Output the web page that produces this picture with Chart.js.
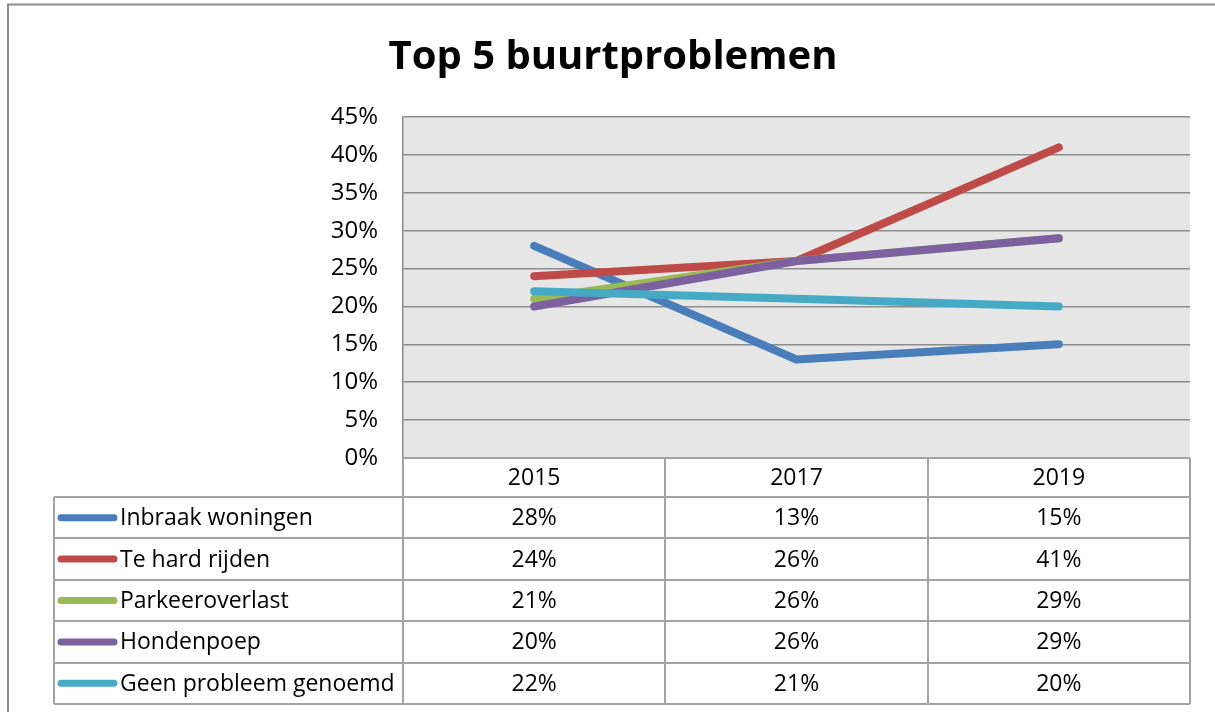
<!DOCTYPE html>
<html>
<head>
<meta charset="utf-8">
<script src="https://cdn.jsdelivr.net/npm/chart.js@4"></script>
<style>
  html, body { margin: 0; padding: 0; background: #fff; }
  #wrap { width: 1215px; height: 712px; }
</style>
</head>
<body>
<div id="wrap"><canvas id="myChart" width="1215" height="712"></canvas></div>
<script>
// chart data
const years = ['2015', '2017', '2019'];
const seriesNames = ['Inbraak woningen', 'Te hard rijden', 'Parkeeroverlast', 'Hondenpoep', 'Geen probleem genoemd'];
const inbraak = [28, 13, 15];
const teHard = [24, 26, 41];
const parkeer = [21, 26, 29];
const honden = [20, 26, 29];
const geenProbleem = [22, 21, 20];
const colors = ['#4A7EBB', '#BE4B48', '#98B954', '#7D60A0', '#46AAC5'];
const yTicks = [0, 5, 10, 15, 20, 25, 30, 35, 40, 45];

const allSeries = [inbraak, teHard, parkeer, honden, geenProbleem];
const FONT = '"Open Sans", "Liberation Sans", sans-serif';
const GRID = '#8c8c8c';
const TABLE_LINE = '#a3a3a3';

// outer frame + gray plot background
const background = {
  id: 'background',
  beforeDraw(chart) {
    const { ctx, chartArea: a } = chart;
    ctx.save();
    ctx.fillStyle = '#e6e6e6';
    ctx.fillRect(a.left, a.top, a.right - a.left, a.bottom - a.top);
    ctx.strokeStyle = '#8c8c8c';
    ctx.lineWidth = 2;
    ctx.beginPath();
    ctx.moveTo(8, 800);
    ctx.lineTo(8, 4.5);
    ctx.lineTo(1300, 4.5);
    ctx.stroke();
    ctx.restore();
  }
};

// data table under the plot, with legend keys
const dataTable = {
  id: 'dataTable',
  afterDraw(chart) {
    const { ctx, chartArea: a } = chart;
    const xs = chart.scales.x;
    const colW = (a.right - a.left) / years.length;
    const headH = 39;
    const rowH = 41.4;
    const tableLeft = 54;
    const top = a.bottom;
    const rowsTop = top + headH;
    const bottom = rowsTop + rowH * seriesNames.length;

    ctx.save();
    ctx.strokeStyle = TABLE_LINE;
    ctx.lineWidth = 2;
    ctx.beginPath();
    // horizontal lines
    ctx.moveTo(a.left, top); ctx.lineTo(a.right, top);
    for (let i = 0; i <= seriesNames.length; i++) {
      const y = Math.round(rowsTop + i * rowH);
      ctx.moveTo(tableLeft, y); ctx.lineTo(a.right, y);
    }
    // vertical lines
    for (let j = 0; j <= years.length; j++) {
      const x = Math.round(a.left + j * colW);
      ctx.moveTo(x, top); ctx.lineTo(x, bottom);
    }
    ctx.moveTo(tableLeft, rowsTop); ctx.lineTo(tableLeft, bottom);
    ctx.stroke();

    ctx.font = '23px ' + FONT;
    ctx.fillStyle = '#000';
    ctx.textBaseline = 'middle';
    ctx.textAlign = 'center';
    years.forEach((yr, j) => {
      ctx.fillText(yr, xs.getPixelForValue(j), top + headH / 2 + 1);
    });
    seriesNames.forEach((name, i) => {
      const cy = rowsTop + i * rowH + rowH / 2;
      ctx.strokeStyle = colors[i];
      ctx.lineWidth = 7;
      ctx.lineCap = 'round';
      ctx.beginPath();
      ctx.moveTo(61, cy); ctx.lineTo(114, cy);
      ctx.stroke();
      ctx.textAlign = 'left';
      ctx.fillText(name, 120, cy + 1);
      ctx.textAlign = 'center';
      allSeries[i].forEach((v, j) => {
        ctx.fillText(v + '%', xs.getPixelForValue(j), cy + 1);
      });
    });
    ctx.restore();
  }
};

const ctx = document.getElementById('myChart');

new Chart(ctx, {
  type: 'line',
  data: {
    labels: years,
    datasets: seriesNames.map((name, i) => ({
      label: name,
      data: allSeries[i],
      borderColor: colors[i],
      backgroundColor: colors[i],
      borderWidth: 8,
      borderCapStyle: 'round',
      borderJoinStyle: 'round',
      pointRadius: 0,
      tension: 0,
      order: seriesNames.length - i   // later series drawn on top, like the original
    }))
  },
  options: {
    responsive: false,
    animation: false,
    layout: { padding: { left: 36, right: 25, top: 0, bottom: 254 } },
    plugins: {
      legend: { display: false },
      tooltip: { enabled: false },
      title: {
        display: true,
        text: 'Top 5 buurtproblemen',
        color: '#000',
        font: { family: FONT, size: 40, weight: 'bold' },
        padding: { top: 34, bottom: 35 }
      }
    },
    scales: {
      x: {
        display: false,
        offset: true
      },
      y: {
        min: 0,
        max: 45,
        afterFit(scale) { scale.width = 367; },
        afterBuildTicks(scale) { scale.ticks = yTicks.map(v => ({ value: v })); },
        ticks: {
          color: '#000',
          padding: 25,
          font: { family: FONT, size: 24 },
          callback: v => v + '%'
        },
        grid: { color: GRID, lineWidth: 1.5, drawTicks: false },
        border: { display: true, color: GRID, width: 1.5 }
      }
    }
  },
  plugins: [background, dataTable]
});
</script>
</body>
</html>
